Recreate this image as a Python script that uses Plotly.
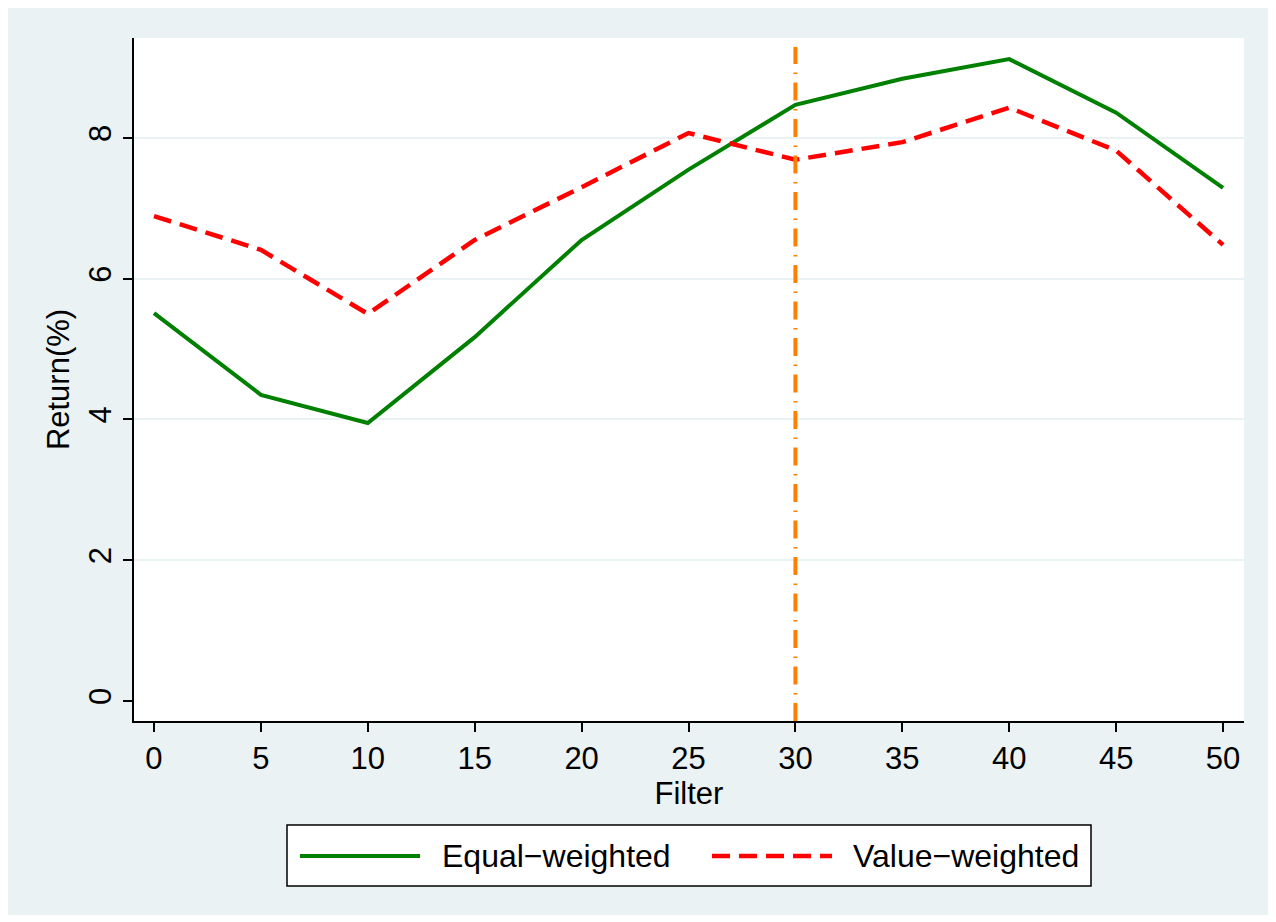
import plotly.graph_objects as go

# ---- data ----
filters = [0, 5, 10, 15, 20, 25, 30, 35, 40, 45, 50]
equal_weighted = [5.51, 4.35, 3.95, 5.17, 6.55, 7.55, 8.47, 8.84, 9.12, 8.36, 7.29]
value_weighted = [6.89, 6.41, 5.50, 6.55, 7.30, 8.07, 7.69, 7.94, 8.43, 7.82, 6.48]
x_ticks = [0, 5, 10, 15, 20, 25, 30, 35, 40, 45, 50]
y_ticks = [0, 2, 4, 6, 8]
grid_ticks = [2, 4, 6, 8]
vline_x = 30
series_names = ["Equal\u2212weighted", "Value\u2212weighted"]

# page has an 8px body margin; figure occupies screen px 8..1268 x 8..915
OFF = 8
W, H = 1260, 907
L, R, T, B = 134, 1244, 38, 721  # screen px of plot area
PW, PH = R - L, B - T

def px_x(p):
    return (p - L) / PW

def px_y(p):
    return (B - p) / PH

BG = "#EAF2F3"
FONT = "Liberation Sans, Arial, sans-serif"
FS = 31
GREEN = "#008000"
RED = "#FF0000"
ORANGE = "#FF8000"
RED_DASH = "18px,9px"

fig = go.Figure()
fig.add_trace(go.Scatter(x=filters, y=equal_weighted, mode="lines",
                         line=dict(color=GREEN, width=4),
                         name=series_names[0], showlegend=False))
fig.add_trace(go.Scatter(x=filters, y=value_weighted, mode="lines",
                         line=dict(color=RED, width=4.5, dash=RED_DASH),
                         name=series_names[1], showlegend=False))
# invisible trace for grid axis
fig.add_trace(go.Scatter(x=[filters[0]], y=[0], yaxis="y2", mode="markers",
                         marker=dict(opacity=0), showlegend=False, hoverinfo="skip"))

shapes = [
    dict(type="line", xref="x", yref="paper", x0=vline_x, x1=vline_x, y0=0, y1=0.987,
         line=dict(color=ORANGE, width=4, dash="18px,8.5px,1.5px,8.5px")),
    # custom legend
    dict(type="rect", xref="paper", yref="paper",
         x0=px_x(287), x1=px_x(1091), y0=px_y(886), y1=px_y(825),
         fillcolor="white", line=dict(color="black", width=1.5)),
    dict(type="line", xref="paper", yref="paper",
         x0=px_x(300), x1=px_x(420), y0=px_y(856), y1=px_y(856),
         line=dict(color=GREEN, width=4)),
    dict(type="line", xref="paper", yref="paper",
         x0=px_x(712), x1=px_x(832), y0=px_y(856), y1=px_y(856),
         line=dict(color=RED, width=4.5, dash=RED_DASH)),
]

annotations = [
    dict(xref="paper", yref="paper", x=px_x(440), y=px_y(856), text=series_names[0],
         showarrow=False, xanchor="left", yanchor="middle",
         font=dict(family=FONT, size=32, color="black")),
    dict(xref="paper", yref="paper", x=px_x(851), y=px_y(856), text=series_names[1],
         showarrow=False, xanchor="left", yanchor="middle",
         font=dict(family=FONT, size=32, color="black")),
]

fig.update_layout(
    width=W, height=H,
    margin=dict(l=L - OFF, r=OFF + W - R, t=T - OFF, b=OFF + H - B),
    paper_bgcolor=BG,
    plot_bgcolor="white",
    font=dict(family=FONT, size=FS, color="black"),
    shapes=shapes,
    annotations=annotations,
    xaxis=dict(range=[-0.935, 50.98], tickvals=x_ticks, ticks="outside", ticklen=9,
               tickwidth=1.5, tickcolor="black", showline=True, linecolor="black",
               linewidth=1.5, showgrid=False, zeroline=False,
               title=dict(text="Filter", standoff=4, font=dict(size=FS)),
               tickfont=dict(size=FS)),
    yaxis=dict(range=[-0.284, 9.42], tickvals=y_ticks, ticks="outside", ticklen=9,
               tickwidth=1.5, tickcolor="black", showline=True, linecolor="black",
               linewidth=1.5, showgrid=False, zeroline=False, tickangle=-90,
               title=dict(text="Return(%)", standoff=4, font=dict(size=FS)),
               tickfont=dict(size=FS)),
    yaxis2=dict(range=[-0.284, 9.42], overlaying="y", tickvals=grid_ticks,
                showticklabels=False, ticks="", showgrid=True, gridcolor=BG,
                gridwidth=2, zeroline=False, showline=False),
    showlegend=False,
)

fig.write_html("out.html")
